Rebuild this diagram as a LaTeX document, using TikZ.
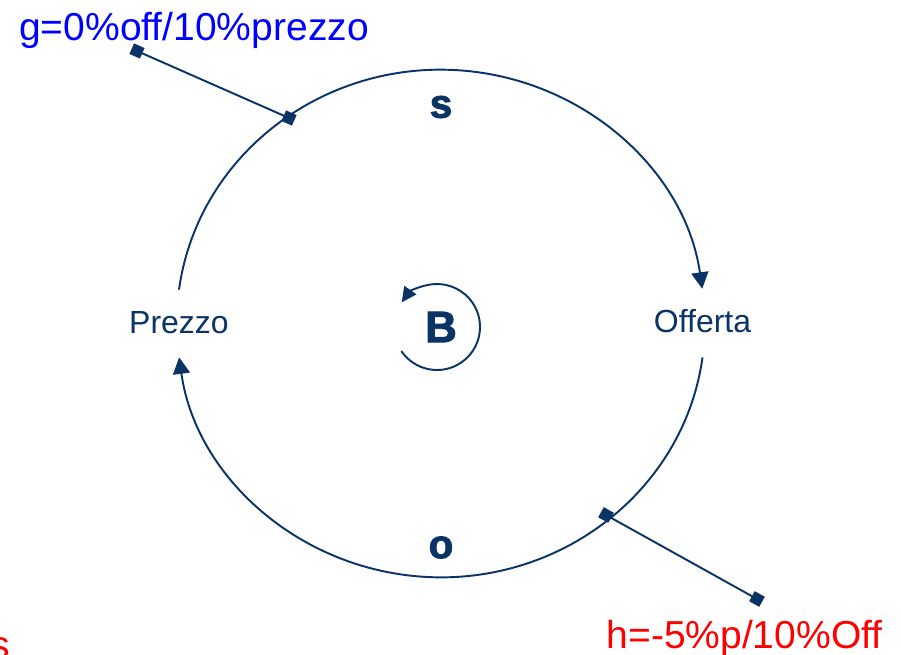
\documentclass[tikz,border=0pt]{standalone}
\usepackage{fontspec}
\setmainfont{Liberation Sans}
\newfontfamily\heavyfont{Liberation Sans Bold}[FakeBold=2.2]
\usetikzlibrary{arrows.meta,positioning}
\usepackage{xcolor}
\definecolor{navy}{HTML}{0A3466}
\definecolor{noteblue}{HTML}{0000FF}
\definecolor{notered}{HTML}{FF0000}

\begin{document}
\begin{tikzpicture}[
      x=0.02cm, y=0.02cm,
      var/.style={
        text=navy, anchor=base, font=\fontsize{18.2}{22}\selectfont,
        text height=0.46cm, text depth=0.1cm, inner xsep=2pt, inner ysep=0.4cm
      },
      sign/.style={text=navy, font=\heavyfont\fontsize{23}{27}\selectfont, inner sep=0pt},
      note/.style={font=\fontsize{22.2}{27}\selectfont, anchor=base, inner sep=0pt},
      link/.style={-{Triangle[length=0.33cm, width=0.34cm]}, line width=1.1pt, draw=navy},
      tie/.style={line width=1.1pt, draw=navy},
      knot/.style={fill=navy, inner sep=0pt, minimum size=0.23cm}
    ]
    \useasboundingbox (0,0) rectangle (901,654);
    \clip (0,0) rectangle (901,654);

    \node[var] (prezzo) at (179,321) {Prezzo};
    \node[var] (offerta) at (702.5,322) {Offerta};
    \node[sign, font=\heavyfont\fontsize{25}{29}\selectfont] (loop) at (441,327) {B};
    \node[sign] (signs) at (441,547) {s};
    \node[sign] (signo) at (441,106.5) {o};

    % delays on the two links
    \node[note, text=noteblue] (gnote) at (194,614) {g=0\%off/10\%prezzo};
    \node[note, text=notered] (hnote) at (744.5,6) {h=-5\%p/10\%Off};
    \node[note, text=notered] (cutnote) at (0,-4) {s};

    \draw[link] (prezzo.north) arc[start angle=172.4, end angle=7.8, x radius=264, y radius=253.5];
    \draw[link] (offerta.south) arc[start angle=-7.6, end angle=-172.4, x radius=264, y radius=253.5];
    \draw[link, -{Triangle[length=0.3cm, width=0.29cm]}] ([xshift=-0.08cm]loop.center) ++(214:43)
      arc[start angle=214, end angle=505, radius=43];

    \node[knot, rotate=-24] (gfoot) at (289,536) {};
    \node[knot, rotate=-24] (gtip) at (137,603) {};
    \node[knot, rotate=-29] (hfoot) at (606,139) {};
    \node[knot, rotate=-29] (htip) at (757,55) {};
    \draw[tie] (gfoot.center) -- (gtip.center);
    \draw[tie] (hfoot.center) -- (htip.center);
  \end{tikzpicture}
\end{document}
